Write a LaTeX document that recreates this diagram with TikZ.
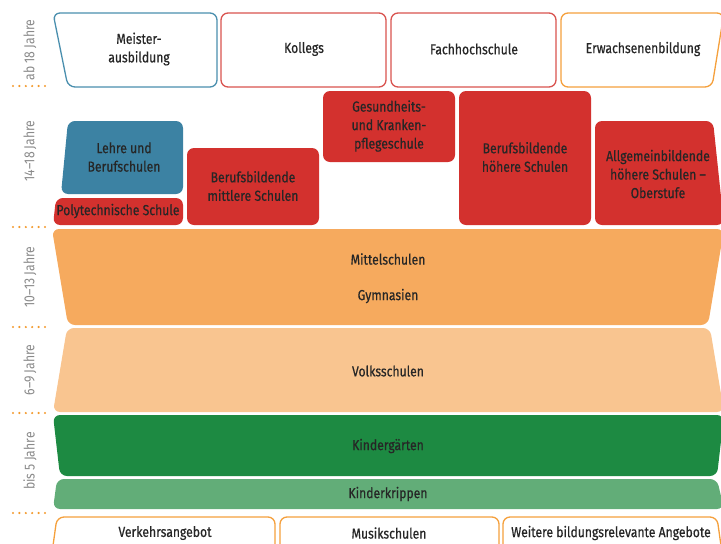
\documentclass[tikz,border=0pt]{standalone}
\usepackage{fontspec}
\setmainfont{Fira Sans}[FakeStretch=0.84]
\newfontfamily\boxfont{Fira Sans}[FakeStretch=0.84, FakeBold=0.5]
\definecolor{txtgray}{HTML}{262626}
\definecolor{agegray}{HTML}{8A8A8A}
\definecolor{frameblue}{HTML}{4A8FAE}
\definecolor{framered}{HTML}{D9534F}
\definecolor{frameorange}{HTML}{F5A03C}
\definecolor{tickorange}{HTML}{F39A2E}
\definecolor{lehreblue}{HTML}{3C82A3}
\definecolor{schoolred}{HTML}{D3312E}
\definecolor{bandorange}{HTML}{F6AA5E}
\definecolor{bandlight}{HTML}{F9C590}
\definecolor{kigagreen}{HTML}{1D8A42}
\definecolor{krippegreen}{HTML}{62AD78}

\begin{document}
\begin{tikzpicture}[x=1pt,y=-1pt,
    lbl/.style={align=center, text=txtgray, font=\boxfont\fontsize{14.5}{18.5}\selectfont},
    age/.style={rotate=90, text=agegray, font=\fontsize{14.5}{16}\selectfont},
    frame/.style={draw, fill=white, line width=1.3pt, rounded corners=7pt},
    block/.style={rounded corners=7pt},
    tick/.style={draw=tickorange, line width=2.4pt, line cap=round, dash pattern=on 0pt off 6.4pt}]
    \useasboundingbox (0,0) rectangle (721,544);
    \clip (0,0) rectangle (721,544);

    % Age ticks
    \foreach \y in {86,227,327,413,513}
        \draw [tick] (13,\y) -- (46,\y);

    % Age labels
    \node [age] (ab18) at (30,50) {ab 18 Jahre};
    \node [age] (a1418) at (30,151) {14–18 Jahre};
    \node [age] (a1013) at (30,277) {10–13 Jahre};
    \node [age] (a69) at (30,370) {6–9 Jahre};
    \node [age] (bis5) at (30,461) {bis 5 Jahre};

    % Top row (ab 18)
    \draw [frame, draw=frameblue] (53,13) -- (217,13) -- (217,87) -- (68,87) -- cycle;
    \draw [frame, draw=framered] (221,13) -- (386,13) -- (386,87) -- (221,87) -- cycle;
    \draw [frame, draw=framered] (391,13) -- (556,13) -- (556,87) -- (391,87) -- cycle;
    \draw [frame, draw=frameorange] (561,13) -- (724,13) -- (712,87) -- (561,87) -- cycle;
    \node [lbl] (meister) at (139,49) {Meister-\\ausbildung};
    \node [lbl] (kollegs) at (304,49) {Kollegs};
    \node [lbl] (fh) at (474,49) {Fachhochschule};
    \node [lbl] (erw) at (643,49) {Erwachsenenbildung};

    % Middle row (14-18)
    \fill [block, lehreblue] (68,121) -- (183,121) -- (183,194) -- (61,194) -- cycle;
    \fill [block, schoolred] (56,198) -- (183,198) -- (183,225) -- (53,225) -- cycle;
    \fill [block, schoolred] (187,148) rectangle (319,225);
    \fill [block, schoolred] (323,91) rectangle (455,162);
    \fill [block, schoolred] (459,91) rectangle (591,225);
    \fill [block, schoolred] (595,121) -- (713,121) -- (724,225) -- (595,225) -- cycle;
    \node [lbl] (lehre) at (124,157) {Lehre und\\Berufschulen};
    \node [lbl] (poly) at (118,211) {Polytechnische Schule};
    \node [lbl] (bms) at (253,186) {Berufsbildende\\mittlere Schulen};
    \node [lbl] (gkp) at (389,126) {Gesundheits-\\und Kranken-\\pflegeschule};
    \node [lbl] (bhs) at (525,157) {Berufsbildende\\höhere Schulen};
    \node [lbl] (ahs) at (658,174) {Allgemeinbildende\\höhere Schulen –\\Oberstufe};

    % Bands
    \fill [block, bandorange] (52,229) -- (724,229) -- (708,325) -- (68,325) -- cycle;
    \fill [block, bandlight] (67,328) -- (710,328) -- (724,412) -- (53,412) -- cycle;
    \fill [block, kigagreen] (53,415) -- (724,415) -- (717,476) -- (60,476) -- cycle;
    \fill [block, krippegreen] (57,479) -- (717,479) -- (724,509) -- (53,509) -- cycle;
    \node [lbl] (mittel) at (388,259) {Mittelschulen};
    \node [lbl] (gym) at (388,296) {Gymnasien};
    \node [lbl] (volks) at (388,371) {Volksschulen};
    \node [lbl] (kiga) at (388,446) {Kindergärten};
    \node [lbl] (krippe) at (388,494) {Kinderkrippen};

    % Bottom row
    \draw [frame, draw=frameorange] (57,517) -- (275,517) -- (275,560) -- (51,560) -- cycle;
    \draw [frame, draw=frameorange] (280,517) -- (499,517) -- (499,560) -- (280,560) -- cycle;
    \draw [frame, draw=frameorange] (503,517) -- (717,517) -- (723,560) -- (503,560) -- cycle;
    \node [lbl] (verkehr) at (165,533) {Verkehrsangebot};
    \node [lbl] (musik) at (389,533) {Musikschulen};
    \node [lbl] (weitere) at (611,533) {Weitere bildungsrelevante Angebote};
\end{tikzpicture}
\end{document}
